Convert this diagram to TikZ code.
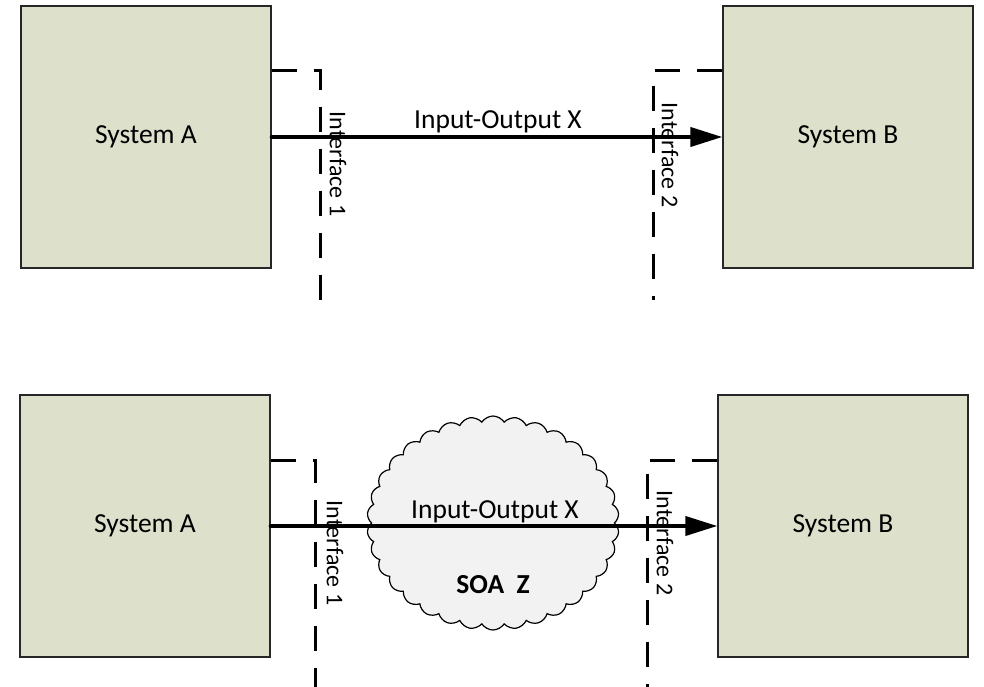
\documentclass[tikz,border=0pt]{standalone}
\usepackage{fontspec}
\setmainfont{Carlito}
\usepackage{tikz}
\usetikzlibrary{arrows.meta,positioning,shapes.symbols}
\definecolor{olivepale}{HTML}{DDE0CB}
\definecolor{cloudgray}{HTML}{F2F2F2}
\definecolor{edgegray}{HTML}{262626}
\tikzset{
  >={Triangle[length=32pt,width=19pt]},
  sysbox/.style={draw=edgegray, fill=olivepale, line width=1.3pt, minimum width=250pt, minimum height=262pt, inner sep=0pt, font=\fontsize{27.5}{32}\selectfont},
  iface/.style={line width=3pt, dash pattern=on 25pt off 17pt},
  flow/.style={->, line width=4pt, line cap=round},
  ifacelabel/.style={rotate=-90, font=\fontsize{24}{28}\selectfont, inner sep=0pt},
  flowlabel/.style={anchor=base, font=\fontsize{27.5}{32}\selectfont, inner sep=0pt},
  soacloud/.style={cloud, cloud puffs=34, cloud puff arc=115, draw, fill=cloudgray, line width=1.2pt, minimum width=252pt, minimum height=214pt}
}

\begin{document}
\begin{tikzpicture}[x=1pt,y=-1pt]
  \useasboundingbox (0,0) rectangle (984,687);

  % top row: direct link
  \node[sysbox] (sysAtop) at (146,137) {System A};
  \node[sysbox] (sysBtop) at (848,137) {System B};
  \coordinate (if1top) at (320,71);
  \coordinate (if1topend) at (320,300);
  \coordinate (if2top) at (653,71);
  \coordinate (if2topend) at (653,300);
  \draw[iface] (sysAtop.east |- if1top) -- (if1top) -- (if1topend);
  \draw[iface] (sysBtop.west |- if2top) -- (if2top) -- (if2topend);
  \draw[flow] (sysAtop.east) -- (sysBtop.west);
  \node[flowlabel] (iotop) at (498,129) {Input-Output X};
  \node[ifacelabel] (if1toplabel) at (338,164) {Interface 1};
  \node[ifacelabel] (if2toplabel) at (670,155) {Interface 2};

  % bottom row: link through the SOA
  \node[sysbox] (sysAbot) at (145,526) {System A};
  \node[sysbox] (sysBbot) at (843,526) {System B};
  \node[soacloud] (soaz) at (493,523) {};
  \coordinate (if1bot) at (315,460);
  \coordinate (if1botend) at (315,690);
  \coordinate (if2bot) at (647,460);
  \coordinate (if2botend) at (647,690);
  \draw[iface] (sysAbot.east |- if1bot) -- (if1bot) -- (if1botend);
  \draw[iface] (sysBbot.west |- if2bot) -- (if2bot) -- (if2botend);
  \draw[flow] (sysAbot.east) -- (sysBbot.west);
  \node[flowlabel] (iobot) at (495,518) {Input-Output X};
  \node[flowlabel, font=\fontsize{27.5}{32}\selectfont\bfseries] (soalabel) at (493,593) {SOA\ \ Z};
  \node[ifacelabel] (if1botlabel) at (335,553) {Interface 1};
  \node[ifacelabel] (if2botlabel) at (665,543) {Interface 2};
\end{tikzpicture}
\end{document}
